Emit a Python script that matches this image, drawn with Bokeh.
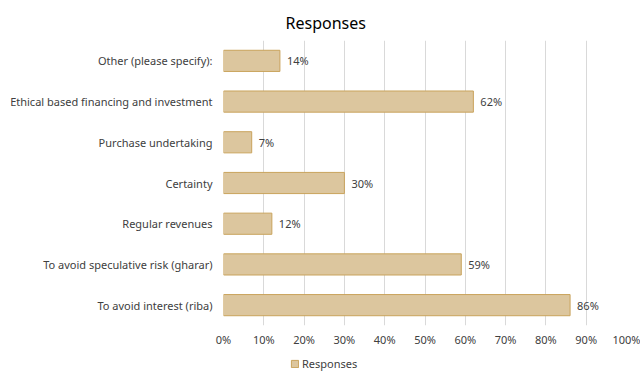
from bokeh.plotting import figure
from bokeh.layouts import column
from bokeh.models import ColumnDataSource, FactorRange, Range1d, Legend, LegendItem, NumeralTickFormatter, FixedTicker
from bokeh.embed import file_html
from bokeh.resources import INLINE
from bokeh.core.properties import value

categories = ["Other (please specify):", "Ethical based financing and investment", "Purchase undertaking",
              "Certainty", "Regular revenues", "To avoid speculative risk (gharar)", "To avoid interest (riba)"]
values = [14, 62, 7, 30, 12, 59, 86]
tick_values = [0, 10, 20, 30, 40, 50, 60, 70, 80, 90, 100]
series_name = "Responses"

FONT = "Noto Sans"
TXT = "#404040"
FILL = "#dcc69e"
EDGE = "#c9a35c"

src = ColumnDataSource(dict(cat=categories, val=[v / 100 for v in values],
                            lab=[f"{v}%" for v in values]))

p = figure(width=640, height=355, output_backend="svg", toolbar_location=None,
           y_range=FactorRange(*reversed(categories)), x_range=Range1d(0, 1),
           min_border_left=223, min_border_right=14, min_border_top=40, min_border_bottom=30)

r = p.hbar(y="cat", right="val", left=0, height=0.52, source=src,
           fill_color=FILL, line_color=EDGE, line_width=1)
p.text(x="val", y="cat", text="lab", source=src, x_offset=7, text_baseline="middle",
       text_font=value(FONT), text_font_size="11px", text_color=TXT)

p.title.text = "Responses"
p.title.align = "left"
p.title.offset = 62
p.title.standoff = 14
p.title.text_font = FONT
p.title.text_font_size = "16px"
p.title.text_font_style = "normal"
p.title.text_color = "#000000"

p.xaxis.ticker = FixedTicker(ticks=[t / 100 for t in tick_values])
p.xaxis.formatter = NumeralTickFormatter(format="0%")
p.xaxis.axis_line_color = None
p.xaxis.major_tick_line_color = None
p.xaxis.minor_tick_line_color = None
p.xaxis.major_tick_out = 0
p.xaxis.major_tick_in = 0
p.xaxis.major_label_text_font = FONT
p.xaxis.major_label_text_font_size = "11px"
p.xaxis.major_label_text_color = TXT
p.xaxis.major_label_standoff = 6

p.yaxis.axis_line_color = None
p.yaxis.major_tick_line_color = None
p.yaxis.minor_tick_line_color = None
p.yaxis.major_tick_out = 0
p.yaxis.major_tick_in = 0
p.yaxis.major_label_text_font = FONT
p.yaxis.major_label_text_font_size = "11px"
p.yaxis.major_label_text_color = TXT
p.yaxis.major_label_standoff = 11

p.ygrid.grid_line_color = None
p.xgrid.grid_line_color = "#d9d9d9"
p.outline_line_color = None

# legend strip below the chart
q = figure(width=640, height=22, output_backend="svg", toolbar_location=None,
           x_axis_type=None, y_axis_type=None, x_range=Range1d(0, 1), y_range=Range1d(0, 1),
           min_border=0, min_border_left=0, min_border_right=0, min_border_top=0, min_border_bottom=0)
q.outline_line_color = None
q.grid.visible = False
dummy = q.hbar(y=[-5], right=[-5], left=[-5], height=0.1, fill_color=FILL, line_color=EDGE)
legend = Legend(items=[LegendItem(label=series_name, renderers=[dummy])], orientation="horizontal",
                location=(67, 6), label_text_font=FONT, label_text_font_size="11px",
                label_text_color=TXT, glyph_width=9, glyph_height=9, border_line_color=None,
                background_fill_alpha=0, padding=2, margin=0, label_standoff=3,
                label_height=12, spacing=0)
q.add_layout(legend, "center")

layout = column(p, q, spacing=0)
open("out.html", "w").write(file_html(layout, INLINE))
